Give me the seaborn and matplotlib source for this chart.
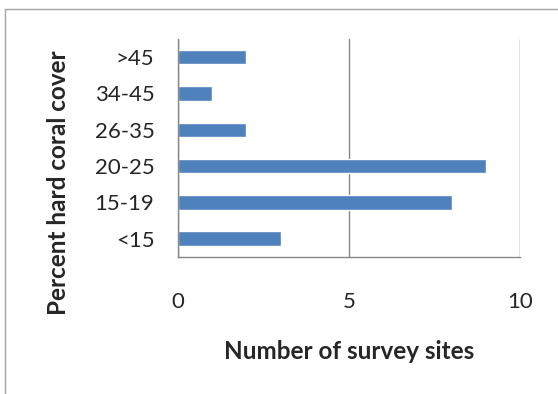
# Coral cover survey - horizontal bar chart

import numpy as np
import pandas as pd
import matplotlib
matplotlib.use("Agg")
import matplotlib.pyplot as plt
from matplotlib.lines import Line2D
import seaborn as sns

# -------------------------------
# DATA
# -------------------------------

cover_classes = [">45", "34-45", "26-35", "20-25", "15-19", "<15"]
site_counts = [2, 1, 2, 9, 8, 3]
x_ticks = [0, 5, 10]

df = pd.DataFrame({"cover": cover_classes, "sites": site_counts})

# -------------------------------
# STYLE
# -------------------------------

sns.set_style("white")
plt.rcParams["font.family"] = ["Lato", "DejaVu Sans"]

axis_grey = "#868686"

fig = plt.figure(figsize=(5.58, 3.94), dpi=100)
ax = fig.add_axes([0.319, 0.348, 0.613, 0.553])

sns.barplot(
    data=df,
    x="sites",
    y="cover",
    order=cover_classes,
    orient="h",
    color="#4F81BD",
    saturation=1,
    width=0.4,
    ax=ax
)

ax.set_xlim(0, 10)
ax.set_ylim(len(cover_classes) - 0.5, -0.5)
ax.set_xticks(x_ticks)
ax.set_xticklabels([str(t) for t in x_ticks], fontsize=16)

# category boundaries as tick marks
ax.set_yticks(np.arange(-0.5, len(cover_classes), 1.0), minor=True)
ax.tick_params(axis="y", which="major", length=0, pad=17, labelsize=16)
ax.tick_params(axis="y", which="minor", length=6, width=1, color=axis_grey, direction="out")
ax.tick_params(axis="x", which="major", length=7, width=1, color=axis_grey, direction="out", pad=18)

ax.grid(axis="x", color=axis_grey, linewidth=1)
ax.grid(axis="y", visible=False)
ax.set_axisbelow(True)

for side in ["top", "right"]:
    ax.spines[side].set_visible(False)
for side in ["left", "bottom"]:
    ax.spines[side].set_color(axis_grey)
    ax.spines[side].set_linewidth(1)

ax.set_xlabel("Number of survey sites", fontsize=17.5, fontweight="bold")
ax.set_ylabel("Percent hard coral cover", fontsize=17.5, fontweight="bold")
ax.xaxis.set_label_coords(0.5, -0.38)
ax.yaxis.set_label_coords(-0.315, 0.34)

# chart area border (clipped by the image on right and bottom)
fig.add_artist(Line2D([5 / 558, 1], [1 - 9 / 394, 1 - 9 / 394], color="#a6a6a6", linewidth=1))
fig.add_artist(Line2D([5 / 558, 5 / 558], [0, 1 - 9 / 394], color="#a6a6a6", linewidth=1))

plt.savefig("out.png", dpi=100)
plt.close()
